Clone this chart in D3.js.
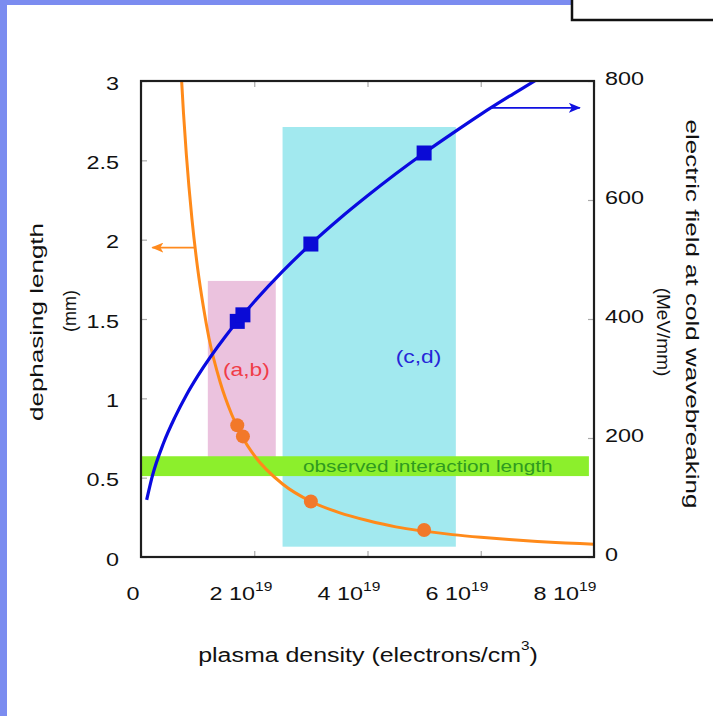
<!DOCTYPE html>
<html>
<head>
<meta charset="utf-8">
<script src="https://cdn.jsdelivr.net/npm/d3@7"></script>
<style>
  body { margin: 0; background: #fff; }
  svg { display: block; font-family: "Liberation Sans", Arial, sans-serif; }
</style>
</head>
<body>
<svg id="chart" width="713" height="716"></svg>
<script>

/////////// Data ///////////

// plasma density in units of 10^19 electrons/cm^3
var densityTicks = [0, 2, 4, 6, 8];
var dephasingTicks = [0, 0.5, 1, 1.5, 2, 2.5, 3];
var fieldTicks = [0, 200, 400, 600, 800];

// dephasing length curve (mm)
var dephasingDensity = [0.7, 0.75, 0.8, 0.9, 1.0, 1.1, 1.2, 1.4, 1.6, 1.8, 2.0, 2.5, 3, 3.5, 4, 4.5, 5, 5.5, 6, 6.5, 7, 7.5, 8];
var dephasingLength = [3.11, 2.80, 2.54, 2.13, 1.82, 1.58, 1.38, 1.10, 0.90, 0.75, 0.64, 0.46, 0.35, 0.28, 0.23, 0.19, 0.163, 0.141, 0.124, 0.11, 0.098, 0.089, 0.080];

// electric field at cold wavebreaking (MeV/mm)
var fieldDensity = [0.1, 0.2, 0.4, 0.6, 0.8, 1, 1.5, 2, 2.5, 3, 3.5, 4, 4.5, 5, 5.5, 6, 6.5, 7, 7.1];
var fieldValue = [96, 136, 192, 235, 272, 304, 372, 429, 480, 526, 568, 607, 644, 679, 712, 744, 774, 803, 809];

// experimental points
var pointDensity = [1.7, 1.8, 3, 5];
var pointDephasing = [0.83, 0.76, 0.35, 0.17];
var pointField = [396, 407, 526, 679];

// shaded regions (density range, dephasing range)
var regionLabels = ['(a,b)', '(c,d)'];
var regionDensity = [[1.18, 2.38], [2.5, 5.56]];
var regionDephasing = [[0.63, 1.74], [0.065, 2.71]];

// observed interaction length band
var bandDensity = [0, 7.91];
var bandDephasing = [0.51, 0.635];

/////////// Layout ///////////

var svg = d3.select('#chart');
var plot = {left: 141, right: 594, top: 81, bottom: 557};

var x = d3.scaleLinear().domain([0, 8]).range([plot.left, plot.right]);
var yL = d3.scaleLinear().domain([0, 3]).range([plot.bottom, plot.top]);
var yR = d3.scaleLinear().domain([0, 800]).range([plot.bottom, plot.top]);
// tick labels in the original sit slightly left of their ticks
var xLabel = d3.scaleLinear().domain([0, 8]).range([133, 565]);

var stretch = 1.3;
var ink = '#111';

// page frame
svg.append('rect').attr('x', 0).attr('y', 0).attr('width', 713).attr('height', 5).attr('fill', '#7b8cf0');
svg.append('rect').attr('x', 0).attr('y', 0).attr('width', 7).attr('height', 716).attr('fill', '#7b8cf0');
svg.append('rect').attr('x', 572).attr('y', -3).attr('width', 150).attr('height', 23)
  .attr('fill', '#fff').attr('stroke', '#111').attr('stroke-width', 2.5);

svg.append('defs').append('clipPath').attr('id', 'clip')
  .append('rect')
  .attr('x', plot.left).attr('y', plot.top)
  .attr('width', plot.right - plot.left).attr('height', plot.bottom - plot.top);

var defs = svg.select('defs');
function arrowMarker(id, color) {
  defs.append('marker')
    .attr('id', id)
    .attr('viewBox', '0 0 12 10')
    .attr('refX', 11).attr('refY', 5)
    .attr('markerWidth', 12).attr('markerHeight', 10)
    .attr('markerUnits', 'userSpaceOnUse')
    .attr('orient', 'auto')
    .append('path')
    .attr('d', 'M0,0 L12,5 L0,10 L3,5 Z')
    .attr('fill', color);
}
arrowMarker('arrow-orange', '#ff8a1e');
arrowMarker('arrow-blue', '#1010e0');

/////////// Shaded regions ///////////

var regionFill = ['#ebc2de', '#a2e9ef'];
var regionText = ['#f03c48', '#2626d8'];
var regionTextPos = [[1.86, 1.14], [4.9, 1.22]];

var g = svg.append('g').attr('clip-path', 'url(#clip)');

regionLabels.forEach(function(lbl, i) {
  g.append('rect')
    .attr('x', x(regionDensity[i][0]))
    .attr('y', yL(regionDephasing[i][1]))
    .attr('width', x(regionDensity[i][1]) - x(regionDensity[i][0]))
    .attr('height', yL(regionDephasing[i][0]) - yL(regionDephasing[i][1]))
    .attr('fill', regionFill[i]);
});

g.append('rect')
  .attr('x', x(bandDensity[0]))
  .attr('y', yL(bandDephasing[1]))
  .attr('width', x(bandDensity[1]) - x(bandDensity[0]))
  .attr('height', yL(bandDephasing[0]) - yL(bandDephasing[1]))
  .attr('fill', '#8cef2c');

svg.append('text')
  .attr('transform', 'translate(' + x(2.86) + ',' + (yL(0.573) + 5.5) + ') scale(' + stretch + ',1)')
  .attr('font-size', 16)
  .attr('fill', '#2f9a20')
  .text('observed interaction length');

regionLabels.forEach(function(lbl, i) {
  svg.append('text')
    .attr('transform', 'translate(' + x(regionTextPos[i][0]) + ',' + yL(regionTextPos[i][1]) + ') scale(' + stretch + ',1)')
    .attr('text-anchor', 'middle')
    .attr('font-size', 17.5)
    .attr('fill', regionText[i])
    .text(lbl);
});

/////////// Curves ///////////

var orangeLine = d3.line()
  .x(function(d, i) { return x(dephasingDensity[i]); })
  .y(function(d) { return yL(d); })
  .curve(d3.curveMonotoneX);

var blueLine = d3.line()
  .x(function(d, i) { return x(fieldDensity[i]); })
  .y(function(d) { return yR(d); })
  .curve(d3.curveMonotoneX);

g.append('path')
  .attr('d', orangeLine(dephasingLength))
  .attr('fill', 'none')
  .attr('stroke', '#ff8a1a')
  .attr('stroke-width', 3);

g.append('path')
  .attr('d', blueLine(fieldValue))
  .attr('fill', 'none')
  .attr('stroke', '#0a0ae0')
  .attr('stroke-width', 3.2);

// axis pointer arrows
svg.append('line')
  .attr('x1', x(0.955)).attr('x2', x(0.2))
  .attr('y1', yL(1.95)).attr('y2', yL(1.95))
  .attr('stroke', '#ff8a1e').attr('stroke-width', 1.8)
  .attr('marker-end', 'url(#arrow-orange)');

svg.append('line')
  .attr('x1', x(6.17)).attr('x2', x(7.75))
  .attr('y1', yR(755)).attr('y2', yR(755))
  .attr('stroke', '#1010e0').attr('stroke-width', 1.8)
  .attr('marker-end', 'url(#arrow-blue)');

/////////// Points ///////////

svg.selectAll('circle.dephasing')
  .data(pointDephasing)
  .enter()
    .append('circle')
    .attr('class', 'dephasing')
    .attr('cx', function(d, i) { return x(pointDensity[i]); })
    .attr('cy', function(d) { return yL(d); })
    .attr('r', 7)
    .attr('fill', '#f2782a');

svg.selectAll('rect.field')
  .data(pointField)
  .enter()
    .append('rect')
    .attr('class', 'field')
    .attr('x', function(d, i) { return x(pointDensity[i]) - 7.5; })
    .attr('y', function(d) { return yR(d) - 7.5; })
    .attr('width', 15)
    .attr('height', 15)
    .attr('fill', '#0a0ad6');

/////////// Axes ///////////

function tickAxis(axis, transform) {
  var a = svg.append('g').attr('transform', transform).call(axis);
  a.select('.domain').remove();
  a.selectAll('.tick line').attr('stroke', '#aaa').attr('stroke-width', 1.2);
  a.selectAll('.tick text').remove();
}

tickAxis(d3.axisBottom(x).tickValues(densityTicks).tickSize(-6), 'translate(0,' + plot.bottom + ')');
tickAxis(d3.axisTop(x).tickValues(densityTicks).tickSize(-6), 'translate(0,' + plot.top + ')');
tickAxis(d3.axisLeft(yL).tickValues(dephasingTicks).tickSize(-6), 'translate(' + plot.left + ',0)');
tickAxis(d3.axisRight(yR).tickValues(fieldTicks).tickSize(-6), 'translate(' + plot.right + ',0)');

// frame
svg.append('rect')
  .attr('x', plot.left).attr('y', plot.top)
  .attr('width', plot.right - plot.left).attr('height', plot.bottom - plot.top)
  .attr('fill', 'none').attr('stroke', '#1e1e1e').attr('stroke-width', 2.2);

// tick labels
svg.selectAll('text.ytick')
  .data(dephasingTicks)
  .enter()
    .append('text')
    .attr('class', 'ytick')
    .attr('transform', function(d) { return 'translate(119,' + (yL(d) + 8.5) + ') scale(' + stretch + ',1)'; })
    .attr('text-anchor', 'end')
    .attr('font-size', 18)
    .attr('fill', ink)
    .text(function(d) { return d; });

svg.selectAll('text.y2tick')
  .data(fieldTicks)
  .enter()
    .append('text')
    .attr('class', 'y2tick')
    .attr('transform', function(d) { return 'translate(605,' + (yR(d) + 4) + ') scale(' + stretch + ',1)'; })
    .attr('font-size', 18)
    .attr('fill', ink)
    .text(function(d) { return d; });

var xt = svg.selectAll('text.xtick')
  .data(densityTicks)
  .enter()
    .append('text')
    .attr('class', 'xtick')
    .attr('transform', function(d) { return 'translate(' + xLabel(d) + ',600) scale(' + stretch + ',1)'; })
    .attr('text-anchor', 'middle')
    .attr('font-size', 18)
    .attr('fill', ink);

xt.append('tspan').text(function(d) { return d === 0 ? '0' : d + ' 10'; });
xt.filter(function(d) { return d !== 0; })
  .append('tspan')
  .attr('dy', -9)
  .attr('font-size', 12)
  .text('19');

// axis titles
var xTitle = svg.append('text')
  .attr('transform', 'translate(368,662) scale(1.28,1)')
  .attr('text-anchor', 'middle')
  .attr('font-size', 19.5)
  .attr('fill', ink);
xTitle.append('tspan').text('plasma density (electrons/cm');
xTitle.append('tspan').attr('dy', -12).attr('font-size', 12).text('3');
xTitle.append('tspan').attr('dy', 12).text(')');

svg.append('text')
  .attr('transform', 'translate(43,322) rotate(-90) scale(1.37,1)')
  .attr('text-anchor', 'middle')
  .attr('font-size', 19)
  .attr('fill', ink)
  .text('dephasing length');

svg.append('text')
  .attr('transform', 'translate(76,311) rotate(-90)')
  .attr('text-anchor', 'middle')
  .attr('font-size', 18)
  .attr('fill', ink)
  .text('(mm)');

svg.append('text')
  .attr('transform', 'translate(686,314) rotate(90) scale(1.37,1)')
  .attr('text-anchor', 'middle')
  .attr('font-size', 19)
  .attr('fill', ink)
  .text('electric field at cold wavebreaking');

svg.append('text')
  .attr('transform', 'translate(657,332) rotate(90)')
  .attr('text-anchor', 'middle')
  .attr('font-size', 19)
  .attr('fill', ink)
  .text('(MeV/mm)');

</script>
</body>
</html>
